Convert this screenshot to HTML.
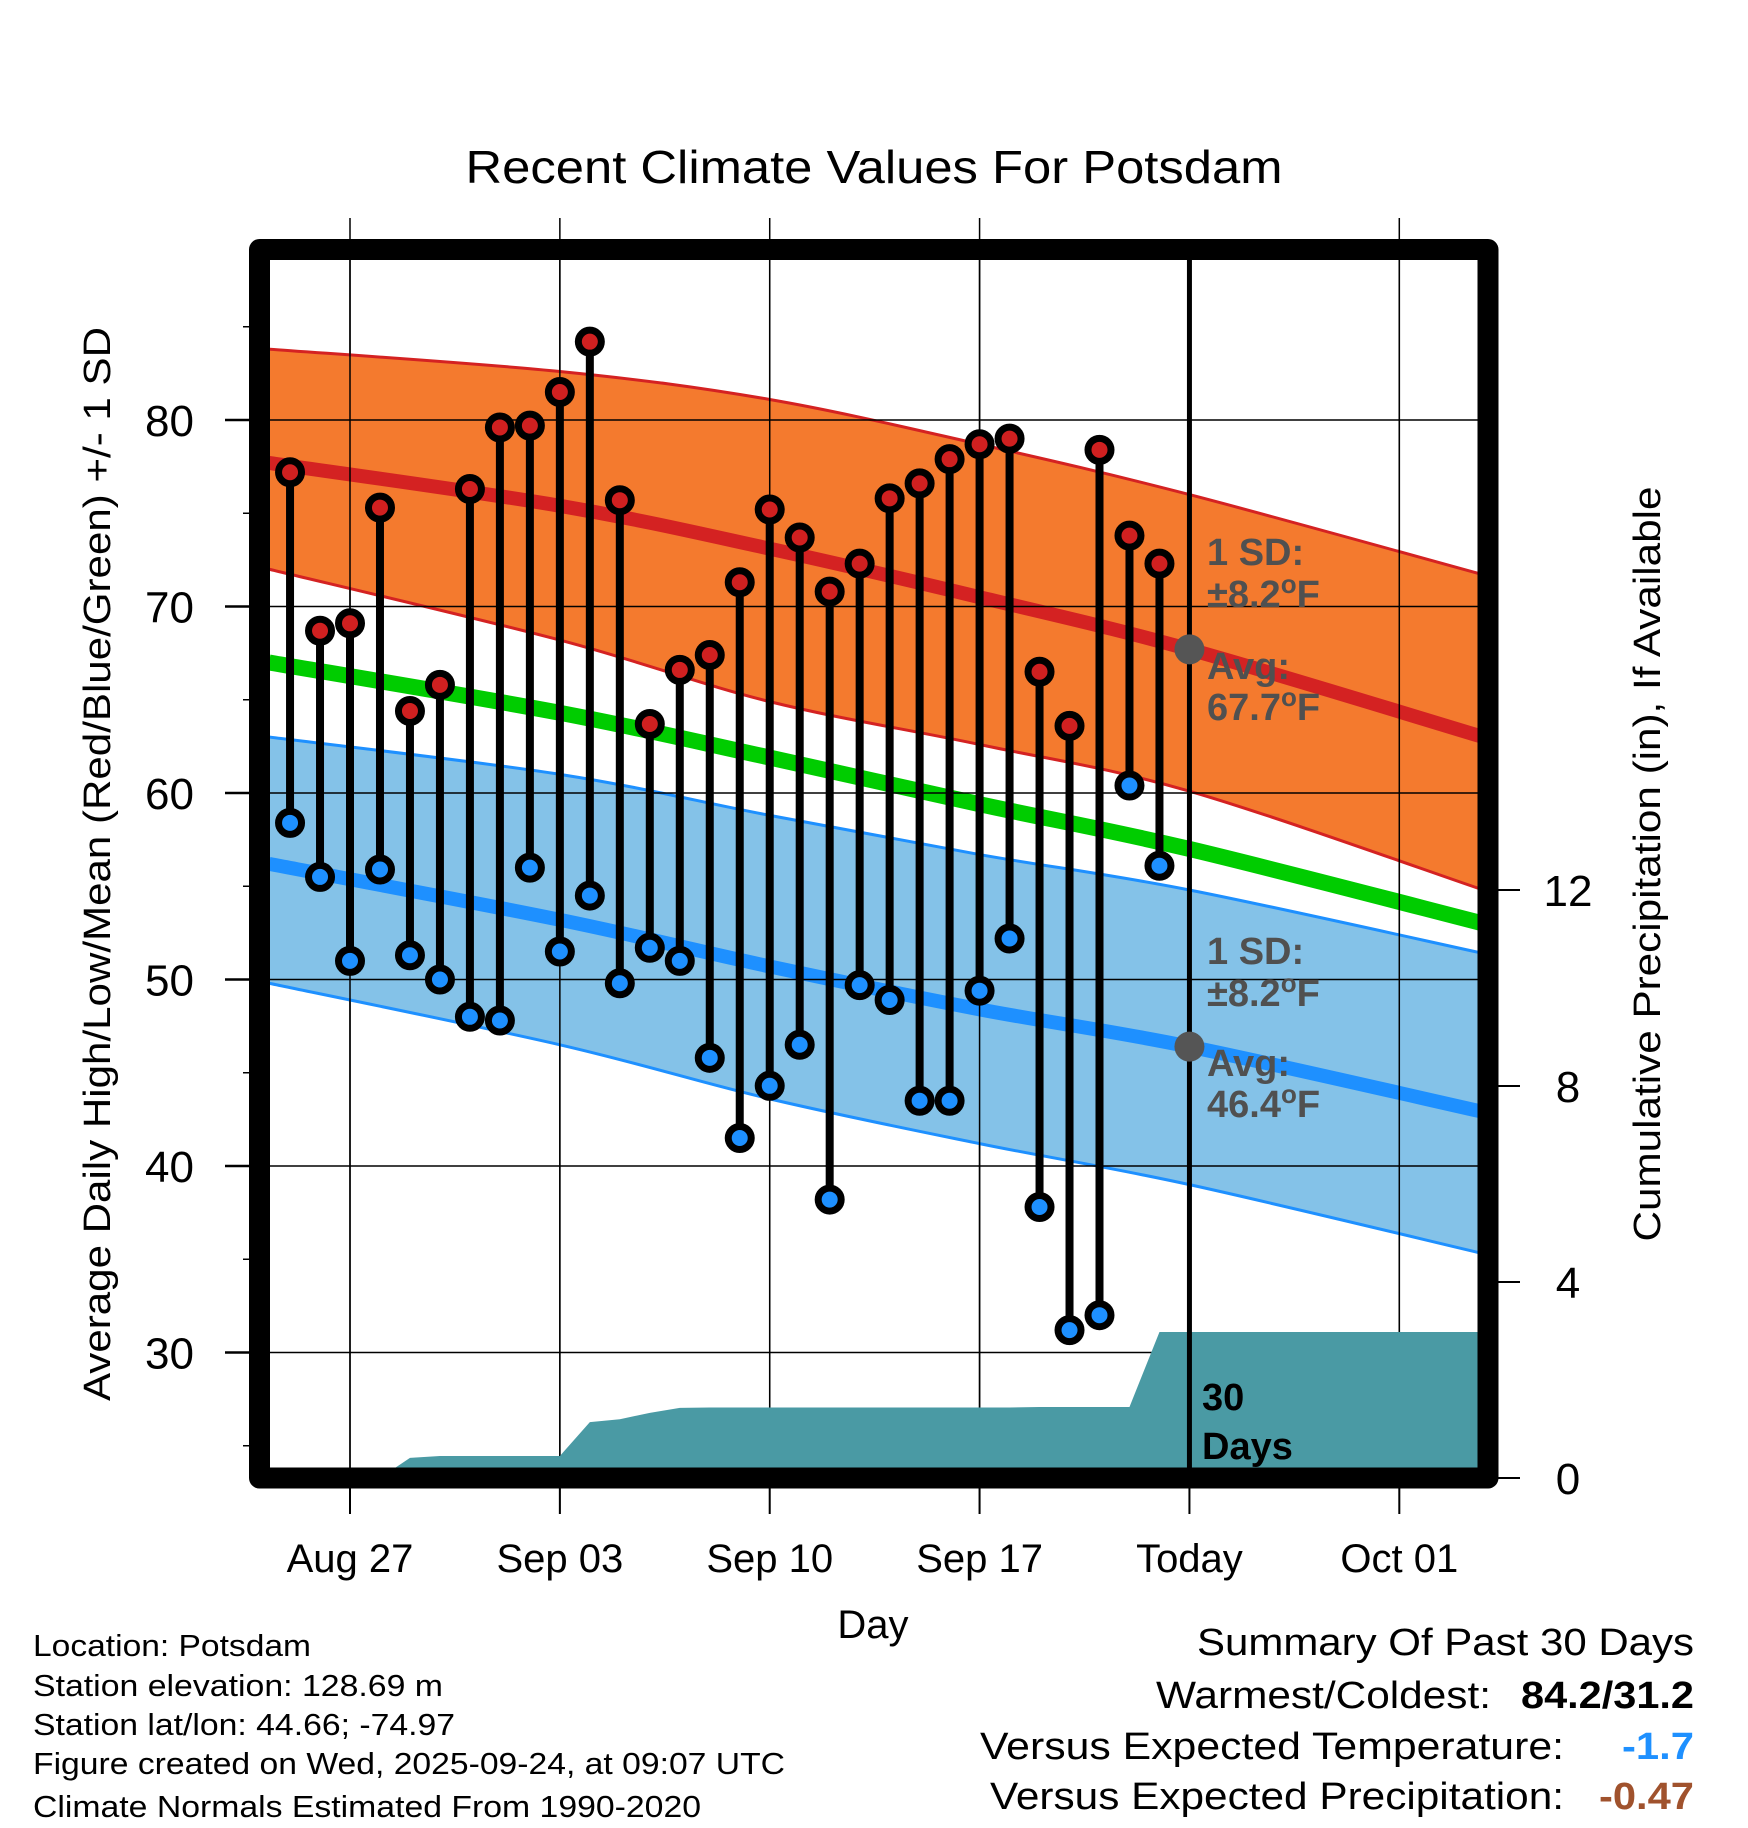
<!DOCTYPE html>
<html><head><meta charset="utf-8"><style>
html,body{margin:0;padding:0;background:#fff;}
svg{display:block;font-family:"Liberation Sans",sans-serif;}
</style></head><body>
<svg id="chart" width="1748" height="1828" viewBox="0 0 1748 1828" xmlns="http://www.w3.org/2000/svg">
<defs><clipPath id="plotclip"><rect x="270" y="260" width="1208" height="1208"/></clipPath></defs>
<g id="grid"></g>
<g id="plot" clip-path="url(#plotclip)"></g>
<g id="over"></g>
<text x="874" y="183" font-size="46" text-anchor="middle" textLength="817" lengthAdjust="spacingAndGlyphs">Recent Climate Values For Potsdam</text>
<text transform="translate(110,864) rotate(-90)" font-size="38" text-anchor="middle" textLength="1074" lengthAdjust="spacingAndGlyphs">Average Daily High/Low/Mean (Red/Blue/Green) +/- 1 SD</text>
<text transform="translate(1660,864) rotate(-90)" font-size="38" text-anchor="middle" textLength="755" lengthAdjust="spacingAndGlyphs">Cumulative Precipitation (in), If Available</text>
<text x="873" y="1638" font-size="40" text-anchor="middle">Day</text>
<g font-size="31">
<text x="33" y="1656" textLength="278" lengthAdjust="spacingAndGlyphs">Location: Potsdam</text>
<text x="33" y="1696" textLength="410" lengthAdjust="spacingAndGlyphs">Station elevation: 128.69 m</text>
<text x="33" y="1735" textLength="422" lengthAdjust="spacingAndGlyphs">Station lat/lon: 44.66; -74.97</text>
<text x="33" y="1774" textLength="752" lengthAdjust="spacingAndGlyphs">Figure created on Wed, 2025-09-24, at 09:07 UTC</text>
<text x="33" y="1817" textLength="668" lengthAdjust="spacingAndGlyphs">Climate Normals Estimated From 1990-2020</text>
</g>
<g font-size="38">
<text x="1694" y="1655" text-anchor="end" textLength="497" lengthAdjust="spacingAndGlyphs">Summary Of Past 30 Days</text>
<text x="1156" y="1708" textLength="335" lengthAdjust="spacingAndGlyphs">Warmest/Coldest:</text>
<text x="1521" y="1708" font-weight="bold" textLength="173" lengthAdjust="spacingAndGlyphs">84.2/31.2</text>
<text x="980" y="1759" textLength="584" lengthAdjust="spacingAndGlyphs">Versus Expected Temperature:</text>
<text x="1622" y="1759" font-weight="bold" fill="#1e90ff" textLength="72" lengthAdjust="spacingAndGlyphs">-1.7</text>
<text x="990" y="1809" textLength="574" lengthAdjust="spacingAndGlyphs">Versus Expected Precipitation:</text>
<text x="1599" y="1809" font-weight="bold" fill="#a0522d" textLength="95" lengthAdjust="spacingAndGlyphs">-0.47</text>
</g>
</svg>
<script>
// ---- data ----
const dayLabels = ["Aug 27","Sep 03","Sep 10","Sep 17","Today","Oct 01"];
const dayTicks = [0,7,14,21,28,35];
const tempTicks = [30,40,50,60,70,80];
const precipTicks = [0,4,8,12];
// observed days (day 0 = Aug 27)
const obsDays = [-2,-1,0,1,2,3,4,5,6,7,8,9,10,11,12,13,14,15,16,17,18,19,20,21,22,23,24,25,26,27];
const highs = [77.2,68.7,69.1,75.3,64.4,65.8,76.3,79.6,79.7,81.5,84.2,75.7,63.7,66.6,67.4,71.3,75.2,73.7,70.8,72.3,75.8,76.6,77.9,78.7,79.0,66.5,63.6,78.4,73.8,72.3];
const lows  = [58.4,55.5,51.0,55.9,51.3,50.0,48.0,47.8,56.0,51.5,54.5,49.8,51.7,51.0,45.8,41.5,44.3,46.5,38.2,49.7,48.9,43.5,43.5,49.4,52.2,37.8,31.2,32.0,60.4,56.1];
const precipCum = [0,0,0,0,0.41,0.45,0.45,0.45,0.45,0.45,1.14,1.2,1.33,1.43,1.44,1.44,1.44,1.44,1.44,1.44,1.44,1.44,1.44,1.44,1.44,1.45,1.45,1.45,1.45,2.98];
// normals sampled at days
const normDays = [-2.7,7,14,21,28,37.8];
const hiAvg   = [77.7,75.4,73.1,70.5,67.7,63.0];
const hiUpper = [83.8,82.6,81.1,78.7,76.0,71.7];
const hiLower = [72.0,68.2,64.9,62.6,60.1,54.8];
const loAvg   = [56.2,53.2,50.7,48.4,46.4,42.9];
const loUpper = [63.0,61.0,58.8,56.7,54.8,51.4];
const loLower = [49.8,46.5,43.6,41.2,39.0,35.3];
const meanAvg = [67.0,64.3,61.9,59.4,57.0,53.0];

// ---- axes ----
const X = d => 350 + d*29.98;
const Y = t => 420 + (80 - t)*18.65;
const P = p => 1478 - p*49;
const NS = "http://www.w3.org/2000/svg";
const plot = document.getElementById('plot');
const over = document.getElementById('over');
const grid = document.getElementById('grid');
function mk(tag, attrs, parent){const e=document.createElementNS(NS,tag);for(const k in attrs)e.setAttribute(k,attrs[k]);parent.appendChild(e);return e;}
function smooth(days, vals){
  const pts = days.map((d,i)=>[X(d),Y(vals[i])]);
  let s = "M"+pts[0][0]+","+pts[0][1];
  for(let i=0;i<pts.length-1;i++){
    const p0=pts[Math.max(0,i-1)],p1=pts[i],p2=pts[i+1],p3=pts[Math.min(pts.length-1,i+2)];
    const c1=[p1[0]+(p2[0]-p0[0])/6,p1[1]+(p2[1]-p0[1])/6];
    const c2=[p2[0]-(p3[0]-p1[0])/6,p2[1]-(p3[1]-p1[1])/6];
    s+=" C"+c1[0]+","+c1[1]+" "+c2[0]+","+c2[1]+" "+p2[0]+","+p2[1];
  }
  return s;
}
function band(days, up, lo){
  const top = smooth(days, up);
  const rd = days.slice().reverse(), rl = lo.slice().reverse();
  const bot = smooth(rd, rl).replace(/^M/,"L");
  return top+" "+bot+" Z";
}
let e;
e = mk('path',{d:band(normDays,hiUpper,hiLower),fill:'#f47a2e'},plot);


e = mk('path',{d:band(normDays,loUpper,loLower),fill:'#84c2e8'},plot);


[[hiUpper,'#d42222','high-upper-edge'],[hiLower,'#d42222','high-lower-edge'],[loUpper,'#1e90ff','low-upper-edge'],[loLower,'#1e90ff','low-lower-edge']].forEach(a=>{
  const l = mk('path',{d:smooth(normDays,a[0]),fill:'none',stroke:a[1],'stroke-width':3},plot);
  
  
});
e = mk('path',{d:smooth(normDays,hiAvg),fill:'none',stroke:'#d42222','stroke-width':14},plot);


e = mk('path',{d:smooth(normDays,loAvg),fill:'none',stroke:'#1e90ff','stroke-width':14},plot);


e = mk('path',{d:smooth(normDays,meanAvg),fill:'none',stroke:'#00cc00','stroke-width':16},plot);


tempTicks.forEach(t=>{
  const g = mk('line',{x1:270,x2:1478,y1:Y(t),y2:Y(t),stroke:'#000','stroke-width':1.5},plot);
  
  
});
dayTicks.forEach((d,i)=>{
  if(dayLabels[i]==="Today") return;
  const g = mk('line',{x1:X(d),x2:X(d),y1:218,y2:1514,stroke:'#000','stroke-width':1.5},grid);
  
  
});
dayTicks.forEach((d,i)=>{
  if(dayLabels[i]==="Today") return;
  const g = mk('line',{x1:X(d),x2:X(d),y1:260,y2:1468,stroke:'#000','stroke-width':1.5},plot);
  
  
});
let pd = "M"+X(-2.7)+","+P(0)+" L"+X(obsDays[0])+","+P(precipCum[0]);
obsDays.forEach((d,i)=>{pd+=" L"+X(d)+","+P(precipCum[i]);});
pd += " L"+X(37.8)+","+P(precipCum[precipCum.length-1])+" L"+X(37.8)+","+P(0)+" Z";
e = mk('path',{d:pd,fill:'#4a9aa4'},plot);


e = mk('line',{x1:X(28),x2:X(28),y1:260,y2:1470,stroke:'#000','stroke-width':5},over);


obsDays.forEach((d,i)=>{
  const s = mk('line',{x1:X(d),x2:X(d),y1:Y(highs[i]),y2:Y(lows[i]),stroke:'#000','stroke-width':8},over);
  
  
});
obsDays.forEach((d,i)=>{
  const h = mk('circle',{cx:X(d),cy:Y(highs[i]),r:11.5,fill:'#d02020',stroke:'#000','stroke-width':7},over);
  
  
  const l = mk('circle',{cx:X(d),cy:Y(lows[i]),r:11.5,fill:'#1e90ff',stroke:'#000','stroke-width':7},over);
  
  
});
[[hiAvg,'today-high-normal-marker'],[loAvg,'today-low-normal-marker']].forEach(a=>{
  const c = mk('circle',{cx:X(28),cy:Y(a[0][4]),r:15,fill:'#555'},over);
  
  
});
function ann(x,y,txt,name,fill){
  const t = mk('text',{x:x,y:y,'font-size':38,'font-weight':'bold',fill:fill},over);
  t.innerHTML = txt;
  
  
}
const deg = '<tspan dy="-14" font-size="26">o</tspan><tspan dy="14">F</tspan>';
ann(1207,565,'1 SD:','high-sd-label','#505050');
ann(1207,607,'±8.2'+deg,'high-sd-value','#505050');
ann(1207,679,'Avg:','high-avg-label','#505050');
ann(1207,720,'67.7'+deg,'high-avg-value','#505050');
ann(1207,964,'1 SD:','low-sd-label','#505050');
ann(1207,1006,'±8.2'+deg,'low-sd-value','#505050');
ann(1207,1076,'Avg:','low-avg-label','#505050');
ann(1207,1117,'46.4'+deg,'low-avg-value','#505050');
ann(1202,1410,'30','precip-days-number','#000');
ann(1202,1459,'Days','precip-days-label','#000');
e = mk('rect',{x:259.5,y:249.5,width:1228.5,height:1228.5,fill:'none',stroke:'#000','stroke-width':21,'stroke-linejoin':'round'},over);


for(let t=25;t<=85;t+=5){
  if(Y(t)<250||Y(t)>1478) continue;
  const major = t%10===0;
  const tk = mk('line',{x1:major?225:243,x2:252,y1:Y(t),y2:Y(t),stroke:'#000','stroke-width':major?2.5:1.5},over);
  
  
}
tempTicks.forEach(t=>{
  const l = mk('text',{x:194,y:Y(t)+16,'font-size':44,'text-anchor':'end'},over);
  l.textContent = t;
  
  
});
precipTicks.forEach(p=>{
  const tk = mk('line',{x1:1498,x2:1520,y1:P(p),y2:P(p),stroke:'#000','stroke-width':2},over);
  
  
  const l = mk('text',{x:1568,y:P(p)+16,'font-size':44,'text-anchor':'middle'},over);
  l.textContent = p;
  
  
});
dayTicks.forEach((d,i)=>{
  const tk = mk('line',{x1:X(d),x2:X(d),y1:1488,y2:1514,stroke:'#000','stroke-width':2},over);
  
  
  const l = mk('text',{x:X(d),y:1572,'font-size':40,'text-anchor':'middle'},over);
  l.textContent = dayLabels[i];
  
  
});
</script>
</body></html>
